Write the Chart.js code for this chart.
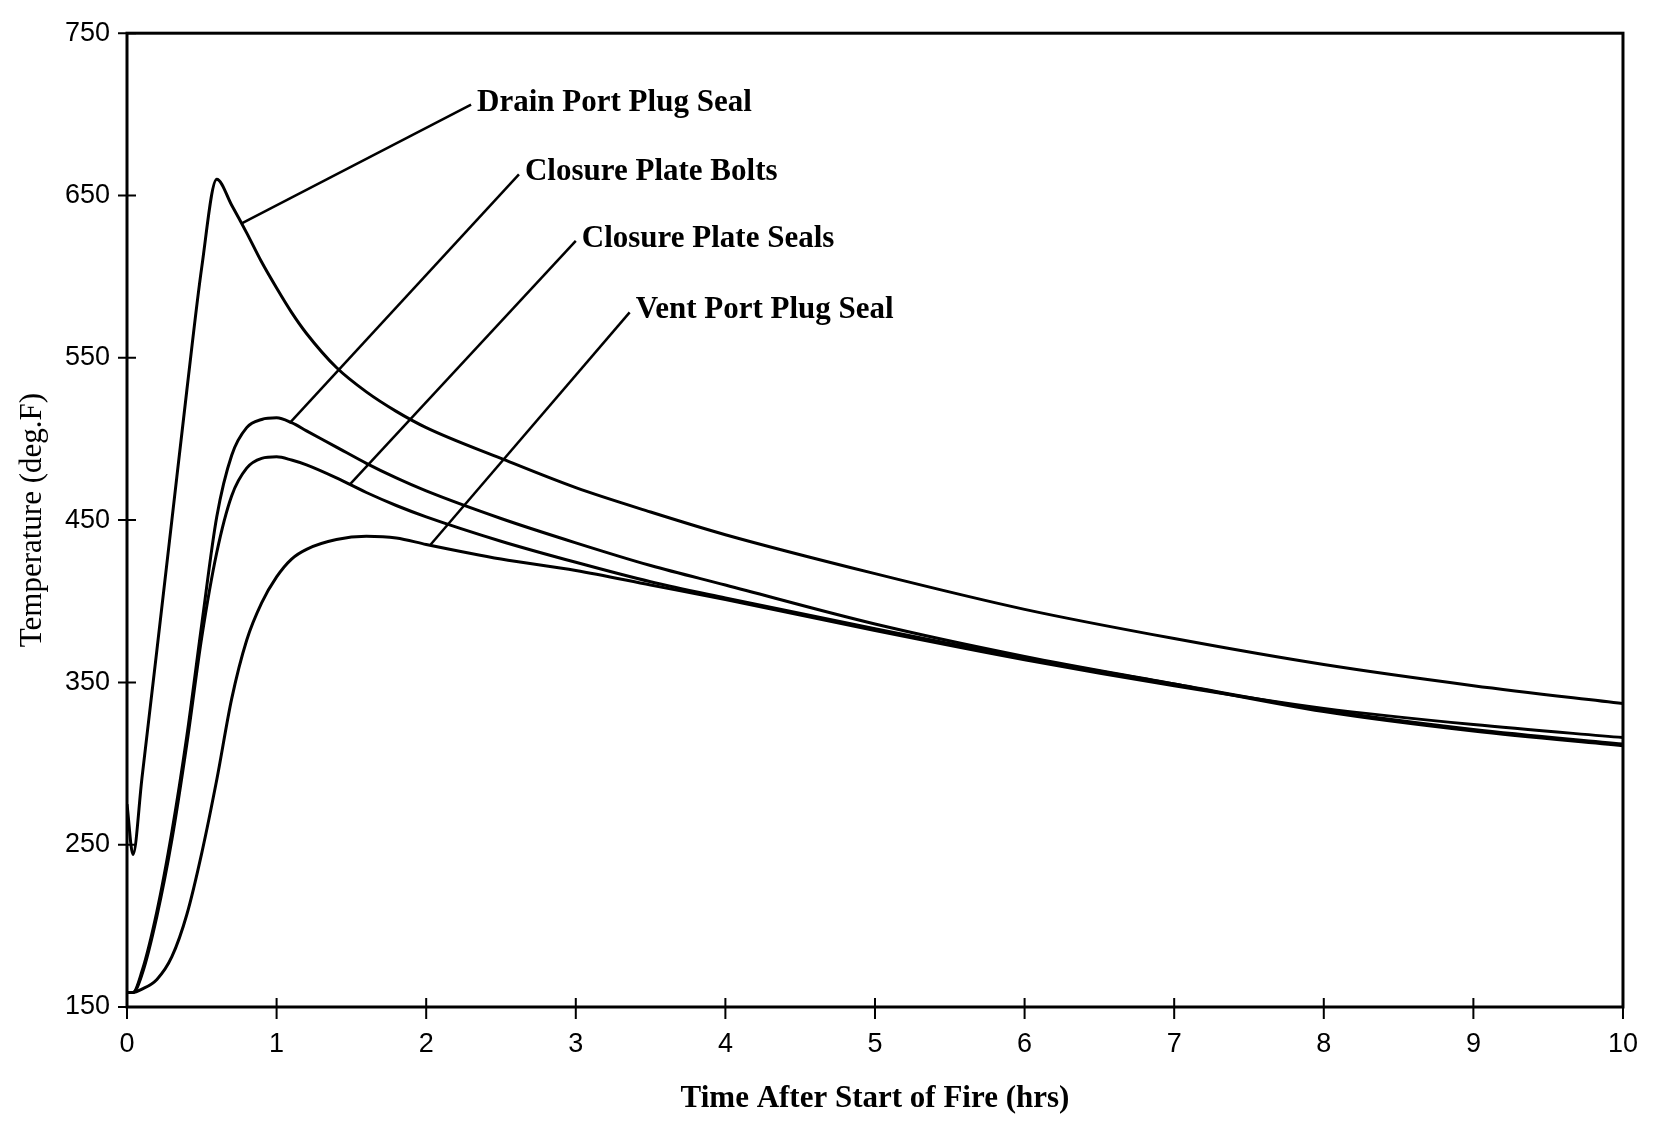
<!DOCTYPE html>
<html>
<head>
<meta charset="utf-8">
<script src="https://cdn.jsdelivr.net/npm/chart.js@4.4.0/dist/chart.umd.min.js"></script>
<style>
html, body { margin: 0; padding: 0; background: #fff; }
#wrap { width: 1659px; height: 1124px; }
</style>
</head>
<body>
<div id="wrap"><canvas id="myChart" width="1659" height="1124"></canvas></div>
<script>
// time after start of fire (hrs), shared by all four curves
const hrs = [0, 0.04, 0.1, 0.2, 0.3, 0.4, 0.5, 0.6, 0.7, 0.8, 0.9, 1.0, 1.1, 1.2, 1.4, 1.6, 1.8, 2.0, 2.5, 3, 3.5, 4, 5, 6, 7, 8, 9, 10];

// temperatures (deg.F)
const drainTemp = [275, 244, 291, 370, 450, 530, 606, 660, 644, 627, 609, 593, 578, 565, 544, 529, 517, 507, 488, 470, 455, 441, 417, 395, 377, 361, 348, 337];
const boltsTemp = [159, 159, 172, 209, 258, 317, 386, 452, 490, 507, 512, 513, 510, 505, 495, 485, 476, 468, 451, 436, 422, 410, 386, 366, 349, 332, 320, 311];
const sealsTemp = [159, 159, 170, 206, 253, 312, 378, 430, 465, 482, 488, 489, 487, 484, 476, 467, 459, 452, 437, 424, 412, 402, 383, 365, 349, 333, 321, 312];
const ventTemp  = [159, 159, 161, 167, 181, 207, 245, 290, 340, 376, 399, 415, 426, 432, 438, 440, 439, 435, 426, 419, 410, 401, 382, 364, 348, 334, 324, 316];

const xTickValues = [0, 1, 2, 3, 4, 5, 6, 7, 8, 9, 10];
const yTickValues = [150, 250, 350, 450, 550, 650, 750];

// callout labels: text, where the text starts, and where the leader touches the curve
const noteText    = ['Drain Port Plug Seal', 'Closure Plate Bolts', 'Closure Plate Seals', 'Vent Port Plug Seal'];
const noteHrs     = [2.30, 2.62, 3.00, 3.36];
const noteTemp    = [706, 663, 622, 578];
const pointerHrs  = [0.77, 1.09, 1.49, 2.03];
const pointerTemp = [633, 510, 472, 435];

function toPoints(temps) {
    return hrs.map((h, i) => ({x: h, y: temps[i]}));
}

function curve(label, temps) {
    return {
        label: label,
        data: toPoints(temps),
        borderColor: '#000',
        borderWidth: 3,
        pointRadius: 0,
        fill: false,
        cubicInterpolationMode: 'monotone'
    };
}

// frame, crossing tick marks and the callouts
const framePlugin = {
    id: 'frame',
    afterDatasetsDraw(chart) {
        const ctx = chart.ctx;
        const a = chart.chartArea;
        const xs = chart.scales.x;
        const ys = chart.scales.y;
        ctx.save();
        ctx.strokeStyle = '#000';
        ctx.lineWidth = 3;
        ctx.strokeRect(a.left, a.top, a.right - a.left, a.bottom - a.top);

        ctx.lineWidth = 2;
        ctx.beginPath();
        xs.ticks.forEach(t => {
            const px = xs.getPixelForValue(t.value);
            ctx.moveTo(px, a.bottom - 9);
            ctx.lineTo(px, a.bottom + 12);
        });
        ys.ticks.forEach(t => {
            const py = ys.getPixelForValue(t.value);
            ctx.moveTo(a.left - 9, py);
            ctx.lineTo(a.left + 9, py);
        });
        ctx.stroke();

        ctx.font = 'bold 31px "Liberation Serif", "Times New Roman", serif';
        ctx.fillStyle = '#000';
        ctx.textAlign = 'left';
        ctx.textBaseline = 'middle';
        ctx.lineWidth = 2.5;
        noteText.forEach((txt, i) => {
            const x0 = xs.getPixelForValue(pointerHrs[i]);
            const y0 = ys.getPixelForValue(pointerTemp[i]);
            const x1 = xs.getPixelForValue(noteHrs[i]);
            const y1 = ys.getPixelForValue(noteTemp[i]);
            ctx.beginPath();
            ctx.moveTo(x0, y0);
            ctx.lineTo(x1, y1);
            ctx.stroke();
            ctx.fillText(txt, x1 + 6, y1 - 2);
        });
        ctx.restore();
    }
};

const ctx = document.getElementById('myChart');

new Chart(ctx, {
    type: 'line',
    data: {
        datasets: [
            curve('Drain Port Plug Seal', drainTemp),
            curve('Closure Plate Bolts', boltsTemp),
            curve('Closure Plate Seals', sealsTemp),
            curve('Vent Port Plug Seal', ventTemp)
        ]
    },
    options: {
        responsive: false,
        animation: false,
        devicePixelRatio: 1,
        layout: {padding: {top: 33, right: 16, left: 0, bottom: 0}},
        plugins: {legend: {display: false}, tooltip: {enabled: false}},
        scales: {
            x: {
                type: 'linear',
                min: 0,
                max: 10,
                afterBuildTicks: s => { s.ticks = xTickValues.map(v => ({value: v})); },
                afterFit: s => { s.height = 117; },
                grid: {display: false, drawTicks: false},
                border: {display: false},
                ticks: {
                    color: '#000',
                    padding: 21,
                    maxRotation: 0,
                    autoSkip: false,
                    font: {family: '"Liberation Sans", Arial, sans-serif', size: 27}
                },
                title: {
                    display: true,
                    text: 'Time After Start of Fire (hrs)',
                    color: '#000',
                    padding: {top: 0, bottom: 6},
                    font: {family: '"Liberation Serif", "Times New Roman", serif', size: 31, weight: 'bold'}
                }
            },
            y: {
                type: 'linear',
                min: 150,
                max: 750,
                afterBuildTicks: s => { s.ticks = yTickValues.map(v => ({value: v})); },
                afterFit: s => { s.width = 127; },
                grid: {display: false, drawTicks: false},
                border: {display: false},
                ticks: {
                    color: '#000',
                    padding: 17,
                    font: {family: '"Liberation Sans", Arial, sans-serif', size: 27}
                },
                title: {
                    display: true,
                    text: 'Temperature (deg.F)',
                    color: '#000',
                    padding: {top: 14, bottom: 0},
                    font: {family: '"Liberation Serif", "Times New Roman", serif', size: 31}
                }
            }
        }
    },
    plugins: [framePlugin]
});
</script>
</body>
</html>
